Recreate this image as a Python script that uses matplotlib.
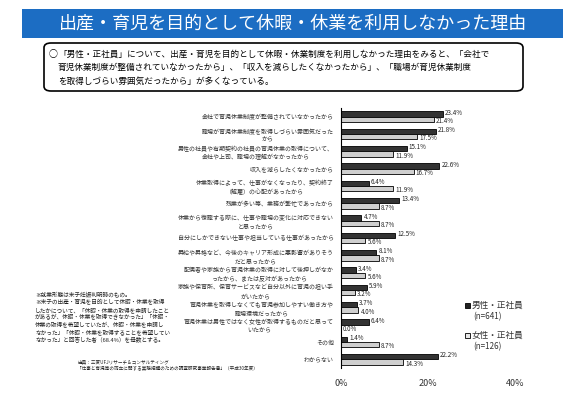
import matplotlib
matplotlib.use('Agg')
import matplotlib.pyplot as plt
from matplotlib.patches import Rectangle, FancyBboxPatch
import numpy as np

plt.rcParams['font.family'] = ['Noto Sans CJK JP', 'DejaVu Sans']

# データ
categories = [
    '会社で育児休業制度が整備されていなかったから',
    '職場が育児休業制度を取得しづらい雰囲気だった\nから',
    '男性の社員や有期契約の社員の育児休業の取得について、\n会社や上司、職場の理解がなかったから',
    '収入を減らしたくなかったから',
    '休業取得によって、仕事がなくなったり、契約終了\n（解雇）の心配があったから',
    '残業が多い等、業務が繁忙であったから',
    '休業から復職する際に、仕事や職場の変化に対応できない\nと思ったから',
    '自分にしかできない仕事や担当している仕事があったから',
    '昇給や昇格など、今後のキャリア形成に悪影響がありそう\nだと思ったから',
    '配偶者や家族から育児休業の取得に対して後押しがなか\nったから、または反対があったから',
    '家族や保育所、保育サービスなど自分以外に育児の担い手\nがいたから',
    '育児休業を取得しなくても育児参加しやすい働き方や\n職場環境だったから',
    '育児休業は男性ではなく女性が取得するものだと思って\nいたから',
    'その他',
    'わからない',
]
male = [23.4, 21.8, 15.1, 22.6, 6.4, 13.4, 4.7, 12.5, 8.1, 3.4, 5.9, 3.7, 6.4, 1.4, 22.2]
female = [21.4, 17.5, 11.9, 16.7, 11.9, 8.7, 8.7, 5.6, 8.7, 5.6, 3.2, 4.0, 0.0, 8.7, 14.3]
series_labels = ['男性・正社員', '女性・正社員']
series_n = ['(n=641)', '(n=126)']
x_ticks = [0, 20, 40]

W, H = 586, 395
fig = plt.figure(figsize=(W / 100, H / 100), dpi=100)

def fx(px):
    return px / W

def fy(py):
    return 1 - py / H

# タイトル帯
fig.patches.append(Rectangle((fx(22), fy(38)), fx(541), 29 / H,
                             facecolor='#1c6dc3', edgecolor='none',
                             transform=fig.transFigure))
fig.text(fx(293), fy(23.5), '出産・育児を目的として休暇・休業を利用しなかった理由',
         color='white', fontsize=13, ha='center', va='center')

# 要約ボックス
fig.patches.append(FancyBboxPatch((fx(44), fy(91)), fx(479), 48 / H,
                                  boxstyle='round,pad=0,rounding_size=0.012',
                                  facecolor='white', edgecolor='black', linewidth=1.2,
                                  transform=fig.transFigure))
summary = [
    '「男性・正社員」について、出産・育児を目的として休暇・休業制度を利用しなかった理由をみると、「会社で',
    '育児休業制度が整備されていなかったから」、「収入を減らしたくなかったから」、「職場が育児休業制度',
    'を取得しづらい雰囲気だったから」が多くなっている。',
]
fig.text(fx(49), fy(54), '○', fontsize=6.5, ha='left', va='center')
for i, line in enumerate(summary):
    fig.text(fx(58), fy(54 + i * 13.5), line, fontsize=6.2, ha='left', va='center')

# グラフ
ax = fig.add_axes([fx(341), fy(368), fx(515 - 341), 260 / H])
y = np.arange(len(categories))
h = 0.3
ax.barh(y - h / 2, male, height=h, color='#333333', edgecolor='black', linewidth=0.6)
ax.barh(y + h / 2, female, height=h, color='#cfcfcf', edgecolor='black', linewidth=0.6)

for i, (m, f) in enumerate(zip(male, female)):
    ax.text(m + 0.5, i - h * 0.75, f'{m:.1f}%', fontsize=4.5, ha='left', va='center', color='#222222')
    ax.text(f + 0.5, i + h * 0.85, f'{f:.1f}%', fontsize=4.5, ha='left', va='center', color='#222222')

ax.set_xlim(0, 40)
ax.set_ylim(len(categories) - 0.5, -0.5)
ax.set_yticks(y)
ax.set_yticklabels(categories, fontsize=4.3, color='#333333', linespacing=1.5)
ax.tick_params(axis='y', length=0, pad=5)
for lbl in ax.get_yticklabels():
    lbl.set_horizontalalignment('right')
    lbl.set_multialignment('center')
ax.set_xticks(x_ticks)
ax.set_xticklabels([f'{t}%' for t in x_ticks], fontsize=6.5, color='#333333')
ax.tick_params(axis='x', length=0, pad=8)
for s in ['top', 'right', 'bottom']:
    ax.spines[s].set_visible(False)
ax.spines['left'].set_linewidth(0.8)
ax.patch.set_alpha(0)

# 凡例
legend_colors = ['#222222', '#e8e8e8']
legend_y = [305, 335]
for col, lab, n, ly in zip(legend_colors, series_labels, series_n, legend_y):
    fig.patches.append(Rectangle((fx(465), fy(ly + 2.5)), fx(5), 5 / H,
                                 facecolor=col, edgecolor='black', linewidth=0.6,
                                 transform=fig.transFigure))
    fig.text(fx(472), fy(ly), lab, fontsize=6.2, ha='left', va='center', color='#333333')
    fig.text(fx(473), fy(ly + 12), n, fontsize=5.8, ha='left', va='center', color='#333333')

# 注記
notes = [
    '※就業形態は末子妊娠判明時のもの。',
    '※末子の出産・育児を目的として休暇・休業を取得',
    'したかについて、「休暇・休業の取得を申請したこと',
    'があるが、休暇・休業を取得できなかった」「休暇・',
    '休業の取得を希望していたが、休暇・休業を申請し',
    'なかった」「休暇・休業を取得することを希望してい',
    'なかった」と回答した者（68.4%）を母数とする。',
]
for i, line in enumerate(notes):
    fig.text(fx(35), fy(295 + i * 7.5), line, fontsize=4.1, ha='left', va='center', color='#222222')

source = [
    '出典：三菱UFJリサーチ＆コンサルティング',
    '「仕事と育児等の両立に関する実態把握のための調査研究事業報告書」（平成30年度）',
]
for i, line in enumerate(source):
    fig.text(fx(77), fy(362 + i * 6), line, fontsize=3.3, ha='left', va='center', color='#222222')

fig.savefig('out.png', dpi=100)
